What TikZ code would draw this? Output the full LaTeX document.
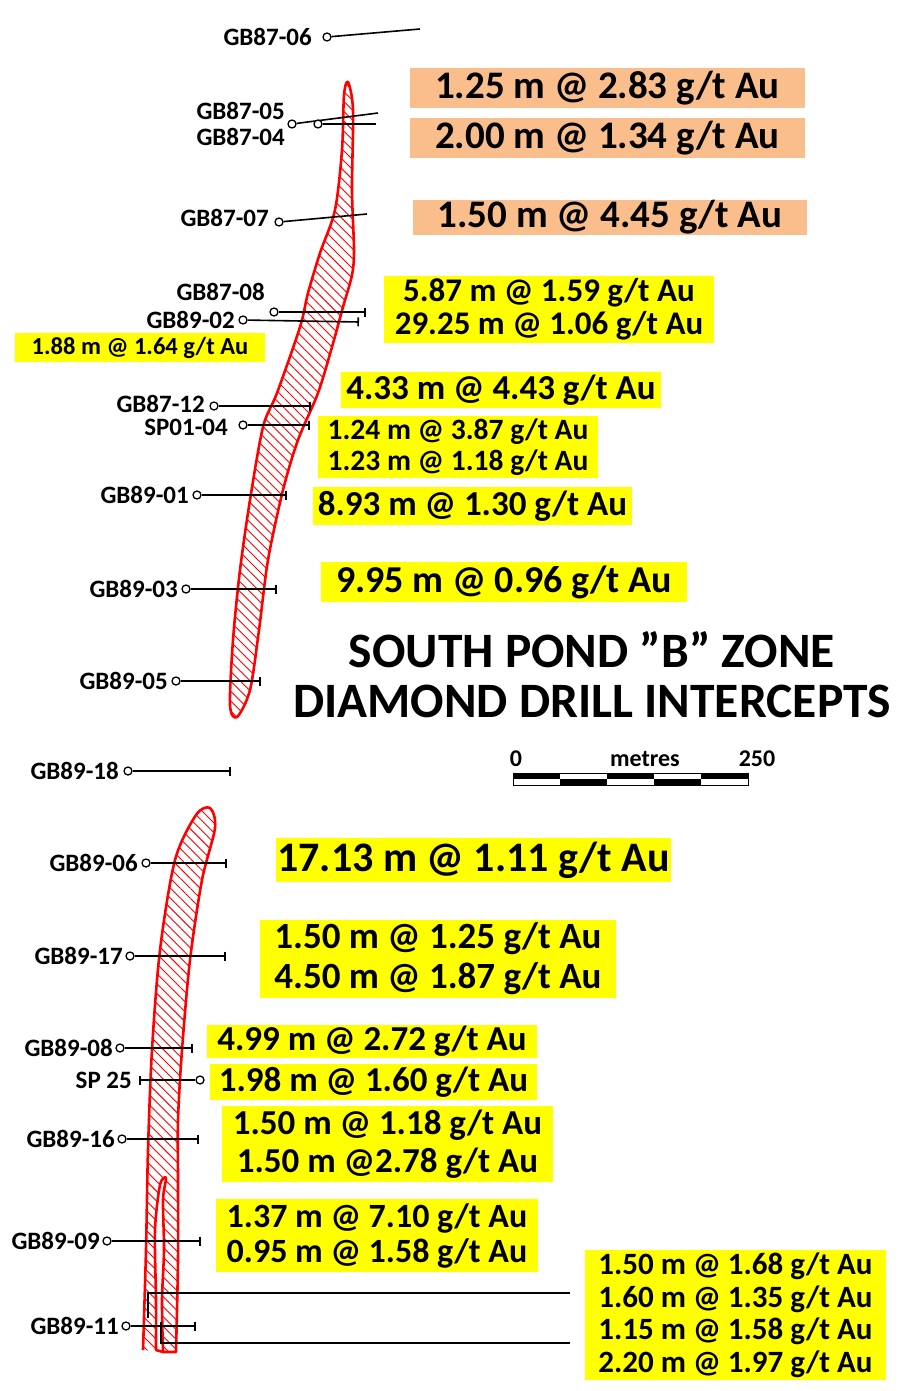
\documentclass[tikz,border=0pt]{standalone}
\usepackage{fontspec}
\setmainfont{Carlito}[Ligatures=ResetAll]
\usetikzlibrary{arrows.meta,patterns.meta}
\definecolor{hl}{RGB}{255,255,0}
\definecolor{org}{RGB}{250,190,140}
\tikzset{
  lab/.style={anchor=east,font=\bfseries\fontsize{25}{25}\selectfont,inner sep=0pt},
  hole/.style={circle,draw=black,fill=white,line width=1.3pt,inner sep=0pt,minimum size=8pt},
  trace/.style={line width=1.6pt,black},
  tick/.style={trace,-{Bar[width=9pt,line width=1.6pt]}},
  ybox/.style={fill=hl,inner sep=0pt,align=center,font=\bfseries},
  obox/.style={fill=org,inner sep=0pt,align=center,font=\bfseries},
  zone/.style={draw=red,line width=2.6pt,line join=round,pattern={Lines[angle=-45,distance=7pt,line width=0.9pt]},pattern color=red},
}
\begin{document}
\begin{tikzpicture}[x=1pt,y=-1pt]
\useasboundingbox (0,0) rectangle (900,1391);
\draw[zone] plot[smooth cycle,tension=0.5] coordinates{(348,82)(353,110)(352,190)(354,250)(352,275)(343,307)(332,347)(318,393)(298,440)(283,490)(268,560)(259,630)(250,690)(237,717)(230,705)(233,640)(240,570)(250,500)(263,427)(277,393)(300,327)(308,293)(320,253)(335,210)(342,150)(344,95)};
\draw[zone] plot[smooth,tension=0.5] coordinates{(143,1350)(146,1250)(148,1150)(152,1050)(160,950)(175,860)(196,815)(210,808)(215,828)(202,880)(190,960)(182,1050)(178,1120)(178,1180)(178,1260)(176,1352)}
 -- (163,1352) plot[smooth,tension=0.5] coordinates{(163,1352)(162,1300)(164,1250)(163,1200)(166,1178)(160,1185)(155,1230)(156,1300)(156,1350)} -- cycle;
\node[hole] (h0606) at (327,37){}; \node[lab] at (312,37){GB87-06};
\coordinate (e0606) at (420,29); \draw[trace] (h0606)--(e0606);
\node[hole] (h05) at (292,124){}; \node[lab] at (285,111){GB87-05};
\coordinate (e05) at (378,113); \draw[trace] (h05)--(e05);
\node[hole] (h04) at (318,124){}; \node[lab] at (285,137){GB87-04};
\coordinate (e04) at (376,124); \draw[trace] (h04)--(e04);
\node[hole] (h07) at (279,222){}; \node[lab] at (269,218){GB87-07};
\coordinate (e07) at (367,214); \draw[trace] (h07)--(e07);
\node[hole] (h08) at (274,312){}; \node[lab] at (265,292){GB87-08};
\coordinate (e08) at (366,312); \draw[tick] (h08)--(e08);
\node[hole] (h02) at (243,320){}; \node[lab] at (235,320){GB89-02};
\coordinate (e02) at (359,322); \draw[tick] (h02)--(e02);
\node[hole] (h12) at (214,406){}; \node[lab] at (205,404){GB87-12};
\coordinate (e12) at (311,406); \draw[tick] (h12)--(e12);
\node[hole] (hsp) at (243,425){}; \node[lab] at (228,427){SP01-04};
\coordinate (esp) at (310,425); \draw[tick] (hsp)--(esp);
\node[hole] (h01) at (197,495){}; \node[lab] at (189,495){GB89-01};
\coordinate (e01) at (287,495); \draw[tick] (h01)--(e01);
\node[hole] (h03) at (186,589){}; \node[lab] at (178,589){GB89-03};
\coordinate (e03) at (277,589); \draw[tick] (h03)--(e03);
\node[hole] (h05b) at (176,681){}; \node[lab] at (168,681){GB89-05};
\coordinate (e05b) at (261,681); \draw[tick] (h05b)--(e05b);
\node[hole] (h18) at (128,771){}; \node[lab] at (119,771){GB89-18};
\coordinate (e18) at (231,771); \draw[tick] (h18)--(e18);
\node[hole] (h06) at (146,863){}; \node[lab] at (138,863){GB89-06};
\coordinate (e06) at (227,863); \draw[tick] (h06)--(e06);
\node[hole] (h17) at (130,956){}; \node[lab] at (123,956){GB89-17};
\coordinate (e17) at (226,956); \draw[tick] (h17)--(e17);
\node[hole] (h8b) at (120,1048){}; \node[lab] at (113,1048){GB89-08};
\coordinate (e8b) at (193,1048); \draw[tick] (h8b)--(e8b);
\node[hole] (h25) at (200,1080){}; \node[lab] at (132,1080){SP 25};
\coordinate (e25) at (139,1080); \draw[tick] (h25)--(e25);
\node[hole] (h16) at (122,1139){}; \node[lab] at (115,1139){GB89-16};
\coordinate (e16) at (199,1139); \draw[tick] (h16)--(e16);
\node[hole] (h09) at (107,1241){}; \node[lab] at (100,1241){GB89-09};
\coordinate (e09) at (201,1241); \draw[tick] (h09)--(e09);
\node[hole] (h11) at (126,1326){}; \node[lab] at (119,1326){GB89-11};
\coordinate (e11) at (196,1326); \draw[tick] (h11)--(e11);
\coordinate (a1) at (148,1318); \coordinate (a2) at (148,1293); \coordinate (a3) at (570,1293);
\draw[trace] (a1)--(a2)--(a3);
\coordinate (b1) at (161,1322); \coordinate (b2) at (161,1343); \coordinate (b3) at (570,1343);
\draw[trace] (b1)--(b2)--(b3);
\node[obox,minimum width=395,minimum height=40,font=\bfseries\fontsize{39}{40}\selectfont] (o1) at (607.5,88){1.25 m @ 2.83 g/t Au};
\node[obox,minimum width=395,minimum height=40,font=\bfseries\fontsize{39}{40}\selectfont] (o2) at (607.5,138){2.00 m @ 1.34 g/t Au};
\node[obox,minimum width=394,minimum height=35,font=\bfseries\fontsize{39}{40}\selectfont] (o3) at (610,217){1.50 m @ 4.45 g/t Au};
\node[ybox,minimum width=330,minimum height=67,font=\bfseries\fontsize{33}{33}\selectfont] (y1) at (549,309.5){5.87 m @ 1.59 g/t Au\\29.25 m @ 1.06 g/t Au};
\node[ybox,minimum width=250,minimum height=29,font=\bfseries\fontsize{24.5}{25}\selectfont] (y2) at (140,347.5){1.88 m @ 1.64 g/t Au};
\node[ybox,minimum width=320,minimum height=36,font=\bfseries\fontsize{35}{35}\selectfont] (y3) at (501,390){4.33 m @ 4.43 g/t Au};
\node[ybox,minimum width=280,minimum height=62,font=\bfseries\fontsize{29.5}{31}\selectfont] (y4) at (458,447){1.24 m @ 3.87 g/t Au\\1.23 m @ 1.18 g/t Au};
\node[ybox,minimum width=319,minimum height=38,font=\bfseries\fontsize{35}{35}\selectfont] (y5) at (472.5,506){8.93 m @ 1.30 g/t Au};
\node[ybox,minimum width=366,minimum height=40,font=\bfseries\fontsize{38}{38}\selectfont] (y6) at (504,582){9.95 m @ 0.96 g/t Au};
\node[ybox,minimum width=395,minimum height=44,font=\bfseries\fontsize{42}{42}\selectfont] (y7) at (473.5,860){17.13 m @ 1.11 g/t Au};
\node[ybox,minimum width=356,minimum height=78,font=\bfseries\fontsize{37}{40}\selectfont] (y8) at (438,959){1.50 m @ 1.25 g/t Au\\4.50 m @ 1.87 g/t Au};
\node[ybox,minimum width=330,minimum height=33,font=\bfseries\fontsize{35}{35}\selectfont] (y9) at (372,1041.5){4.99 m @ 2.72 g/t Au};
\node[ybox,minimum width=327,minimum height=36,font=\bfseries\fontsize{35}{35}\selectfont] (y10) at (373.5,1082){1.98 m @ 1.60 g/t Au};
\node[ybox,minimum width=331,minimum height=76,font=\bfseries\fontsize{35}{38}\selectfont] (y11) at (387.5,1144){1.50 m @ 1.18 g/t Au\\1.50 m @2.78 g/t Au};
\node[ybox,minimum width=322,minimum height=73,font=\bfseries\fontsize{34}{35}\selectfont] (y12) at (377,1235.5){1.37 m @ 7.10 g/t Au\\0.95 m @ 1.58 g/t Au};
\node[ybox,minimum width=301,minimum height=130,font=\bfseries\fontsize{31}{32.5}\selectfont] (y13) at (735.5,1315){1.50 m @ 1.68 g/t Au\\1.60 m @ 1.35 g/t Au\\1.15 m @ 1.58 g/t Au\\2.20 m @ 1.97 g/t Au};
\node[align=center,font=\bfseries\fontsize{49.5}{50}\selectfont,inner sep=0pt] (title) at (592,675){SOUTH POND "B" ZONE\\DIAMOND DRILL INTERCEPTS};
\foreach \i in {0,...,4}{
  \pgfmathsetmacro\xa{513+47*\i}
  \ifodd\i
    \fill[white] (\xa,773) rectangle ++(47,6); \fill[black] (\xa,779) rectangle ++(47,6);
  \else
    \fill[black] (\xa,773) rectangle ++(47,6); \fill[white] (\xa,779) rectangle ++(47,6);
  \fi}
\draw[black,line width=0.8pt] (513,773) rectangle (748,785);
\node[font=\bfseries\fontsize{24}{24}\selectfont,anchor=south] (s0) at (516,770){0};
\node[font=\bfseries\fontsize{24}{24}\selectfont,anchor=south] (sm) at (645,770){metres};
\node[font=\bfseries\fontsize{24}{24}\selectfont,anchor=south] (s1) at (757,770){250};
\end{tikzpicture}
\end{document}
